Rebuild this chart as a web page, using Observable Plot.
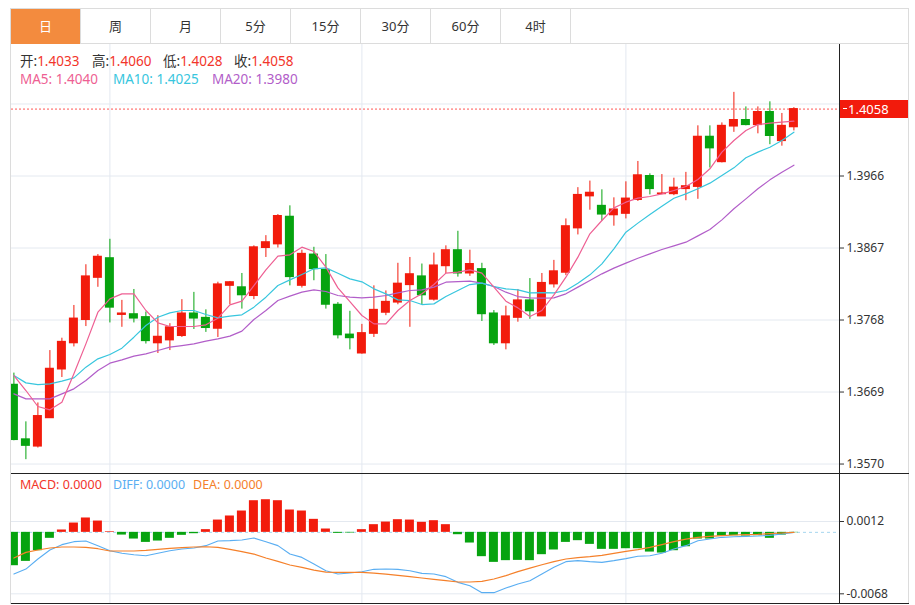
<!DOCTYPE html>
<html>
<head>
<meta charset="utf-8">
<script src="https://cdn.jsdelivr.net/npm/d3@7"></script>
<script src="https://cdn.jsdelivr.net/npm/@observablehq/plot@0.6"></script>
<style>
  body { margin: 0; background: #fff; font-family: "Noto Sans", "Noto Sans CJK SC", sans-serif; color: #333; }
  #wrap { position: relative; width: 915px; height: 605px; overflow: hidden; }
  .abs { position: absolute; }
  .tab { position: absolute; top: 9px; height: 35px; line-height: 35px; text-align: center; font-size: 13px; color: #333; box-sizing: border-box; border-right: 1px solid #dcdcdc; }
  .tab.active { background: #f38b3e; color: #fff; }
  .info { position: absolute; font-size: 13.5px; line-height: 18px; white-space: nowrap; }
  .small { font-size: 12.5px; }
  .k { color: #333; }
  .v { color: #f2352a; }
</style>
</head>
<body>
<div id="wrap"></div>
<script>
// ---------- data ----------
const tabs = ["日", "周", "月", "5分", "15分", "30分", "60分", "4时"];

const open  = [1.3679,1.3604,1.3594,1.3633,1.3700,1.3736,1.3768,1.3826,1.3853,1.3775,1.3776,1.3772,1.3736,1.3740,1.3746,1.3777,1.3771,1.3756,1.3815,1.3813,1.3801,1.3867,1.3872,1.3910,1.3815,1.3858,1.3837,1.3789,1.3748,1.3722,1.3749,1.3778,1.3792,1.3816,1.3828,1.3796,1.3842,1.3864,1.3832,1.3838,1.3777,1.3736,1.3771,1.3795,1.3773,1.3817,1.3833,1.3894,1.3938,1.3925,1.3912,1.3914,1.3933,1.3966,1.3941,1.3941,1.3948,1.3951,1.4020,1.3985,1.4034,1.4043,1.4036,1.4054,1.4014,1.4033];
const high  = [1.3695,1.3628,1.3654,1.3726,1.3743,1.3788,1.3844,1.3858,1.3879,1.3795,1.3810,1.3779,1.3774,1.3763,1.3796,1.3806,1.3782,1.3820,1.3821,1.3832,1.3870,1.3884,1.3913,1.3925,1.3864,1.3868,1.3858,1.3792,1.3780,1.3762,1.3815,1.3808,1.3846,1.3854,1.3845,1.3860,1.3870,1.3890,1.3864,1.3846,1.3781,1.3787,1.3810,1.3825,1.3832,1.3850,1.3907,1.3950,1.3959,1.3947,1.3936,1.3958,1.3986,1.3969,1.3968,1.3963,1.3971,1.4035,1.4035,1.4039,1.4081,1.4061,1.4061,1.4068,1.4052,1.4060];
const low   = [1.3602,1.3576,1.3592,1.3633,1.3689,1.3731,1.3759,1.3813,1.3764,1.3758,1.3764,1.3735,1.3722,1.3726,1.3744,1.3755,1.3751,1.3744,1.3789,1.3783,1.3796,1.3854,1.3867,1.3815,1.3812,1.3822,1.3783,1.3742,1.3727,1.3721,1.3744,1.3774,1.3789,1.3758,1.3789,1.3794,1.3832,1.3827,1.3828,1.3766,1.3733,1.3727,1.3765,1.3769,1.3773,1.3812,1.3829,1.3885,1.3919,1.3904,1.3897,1.3907,1.3931,1.3940,1.3941,1.3939,1.3932,1.3934,1.3977,1.3984,1.4026,1.4035,1.4024,1.4009,1.4007,1.4028];
const close = [1.3603,1.3595,1.3636,1.3701,1.3738,1.3770,1.3828,1.3855,1.3785,1.3777,1.3770,1.3739,1.3745,1.3758,1.3777,1.3770,1.3757,1.3817,1.3820,1.3802,1.3868,1.3875,1.3911,1.3827,1.3859,1.3838,1.3789,1.3747,1.3743,1.3750,1.3782,1.3793,1.3818,1.3831,1.3802,1.3843,1.3864,1.3832,1.3845,1.3776,1.3736,1.3773,1.3795,1.3780,1.3819,1.3835,1.3897,1.3940,1.3943,1.3913,1.3920,1.3935,1.3967,1.3948,1.3942,1.3950,1.3952,1.4020,1.4004,1.4035,1.4043,1.4036,1.4054,1.4021,1.4035,1.4058];

const ma5  = [1.36917,1.36711,1.36491,1.36445,1.3655,1.3694,1.37352,1.37788,1.37971,1.3804,1.3804,1.37811,1.37641,1.37591,1.37591,1.37591,1.37614,1.37705,1.37889,1.37939,1.38154,1.3837,1.38558,1.38576,1.38682,1.38622,1.38407,1.38122,1.37934,1.37742,1.37627,1.37627,1.37811,1.37948,1.3804,1.38168,1.38324,1.38338,1.3837,1.38324,1.38132,1.37939,1.37847,1.37728,1.37811,1.38026,1.38269,1.38544,1.38865,1.39048,1.39222,1.393,1.39355,1.39378,1.39415,1.39461,1.39516,1.39612,1.39759,1.39988,1.40148,1.40286,1.40368,1.40386,1.404,1.40414];
const ma10 = [1.36917,1.36816,1.36793,1.36802,1.36839,1.36885,1.37032,1.37146,1.37206,1.37293,1.37444,1.37604,1.37719,1.37779,1.37811,1.37811,1.37756,1.3771,1.37733,1.37751,1.37857,1.37994,1.38154,1.38232,1.38306,1.38384,1.38397,1.38324,1.38246,1.38205,1.38109,1.3804,1.37957,1.37948,1.37893,1.37902,1.38003,1.38086,1.38168,1.38187,1.38141,1.38109,1.38095,1.38054,1.38058,1.38054,1.38086,1.38187,1.38301,1.38452,1.38659,1.38888,1.39012,1.39131,1.39245,1.39355,1.39415,1.39484,1.39562,1.39667,1.39772,1.3991,1.39988,1.40056,1.40148,1.40263];
const ma20 = [1.36665,1.36596,1.36596,1.36596,1.36665,1.36734,1.36848,1.36986,1.37087,1.37132,1.37183,1.37215,1.37261,1.37307,1.37329,1.37352,1.37389,1.37421,1.37458,1.37527,1.37687,1.37811,1.37948,1.38008,1.38063,1.38095,1.38072,1.38017,1.37994,1.37985,1.37994,1.38017,1.38054,1.38086,1.38095,1.38132,1.382,1.38209,1.38214,1.38187,1.38141,1.38063,1.38003,1.37985,1.3798,1.37985,1.3804,1.38132,1.38223,1.38315,1.38393,1.38462,1.3853,1.3859,1.38649,1.387,1.3875,1.38837,1.38924,1.39057,1.39209,1.39346,1.39484,1.39607,1.39713,1.39809];

const macd = [-0.00369,-0.00321,-0.00203,-0.00066,0.00026,0.00103,0.00159,0.00125,0.00007,-0.0003,-0.00074,-0.00111,-0.00096,-0.00066,-0.00033,-0.00015,0.0003,0.00136,0.00181,0.00236,0.0035,0.00361,0.0035,0.00247,0.00236,0.00144,0.00037,-0.00011,-0.00007,0.0003,0.00085,0.00114,0.0014,0.00136,0.00111,0.00129,0.00085,-0.00026,-0.00118,-0.00269,-0.00332,-0.00313,-0.0031,-0.00313,-0.00247,-0.00195,-0.00111,-0.00092,-0.00133,-0.00188,-0.00188,-0.00181,-0.00181,-0.00218,-0.00229,-0.00203,-0.00159,-0.00074,-0.00074,-0.00041,-0.00037,-0.00041,-0.00037,-0.00066,-0.0003,-0.00004];
const diff = [-0.00461,-0.00406,-0.00295,-0.00195,-0.00136,-0.00103,-0.00096,-0.00147,-0.00203,-0.00232,-0.00247,-0.00258,-0.00232,-0.00203,-0.00184,-0.00173,-0.00147,-0.00096,-0.00092,-0.00085,-0.00063,-0.00103,-0.00147,-0.0024,-0.00277,-0.0035,-0.00424,-0.00461,-0.0045,-0.00435,-0.00409,-0.00406,-0.00409,-0.00424,-0.00454,-0.00461,-0.0049,-0.00553,-0.0059,-0.00667,-0.00667,-0.00616,-0.00571,-0.00535,-0.00461,-0.00387,-0.00324,-0.00313,-0.00324,-0.00332,-0.00313,-0.00291,-0.00265,-0.00258,-0.00232,-0.00184,-0.00147,-0.00092,-0.00074,-0.00055,-0.00048,-0.00044,-0.00041,-0.00033,-0.00018,0];
const dea  = [-0.00284,-0.00221,-0.00195,-0.00173,-0.00162,-0.00162,-0.00166,-0.00181,-0.00206,-0.00206,-0.00206,-0.00199,-0.00188,-0.00177,-0.0017,-0.00162,-0.00159,-0.00166,-0.00188,-0.00214,-0.0024,-0.00284,-0.00321,-0.00361,-0.00387,-0.00417,-0.00439,-0.00442,-0.00442,-0.00442,-0.0045,-0.00461,-0.00476,-0.0049,-0.00505,-0.0052,-0.00535,-0.00549,-0.00549,-0.00542,-0.00516,-0.00479,-0.00435,-0.00395,-0.00358,-0.00324,-0.00295,-0.0028,-0.00269,-0.00254,-0.00232,-0.0021,-0.00192,-0.00166,-0.00136,-0.00103,-0.00074,-0.00055,-0.00044,-0.00037,-0.00029,-0.00026,-0.00022,-0.00015,-0.00007,0];

const monthStarts = [8, 29, 51];           // candle indices where vertical grid lines fall
const priceGrid = [1.3570, 1.3669, 1.3768, 1.3867, 1.3966, 1.4065];
const priceTicks = [1.3570, 1.3669, 1.3768, 1.3867, 1.3966];   // the 1.4065 label sits under the price tag
const macdTicks = [0.0012, -0.0068];

const header = {open: "1.4033", high: "1.4060", low: "1.4028", close: "1.4058", ma5: "1.4040", ma10: "1.4025", ma20: "1.3980"};

// ---------- styles ----------
const RED = "#f21b0c", GREEN = "#06a30f";
const C_MA5 = "#ee5f93", C_MA10 = "#38c6de", C_MA20 = "#b25ec9";
const C_DIFF = "#5aaef2", C_DEA = "#f5802a";
const GRID = "#e4e9f0";
const FONT = "'Noto Sans', 'Noto Sans CJK SC', sans-serif";

const candles = d3.range(open.length).map(i => ({
  i, open: open[i], high: high[i], low: low[i], close: close[i],
  ma5: ma5[i], ma10: ma10[i], ma20: ma20[i],
  macd: macd[i], diff: diff[i], dea: dea[i]
}));
const col = d => d.close >= d.open ? RED : GREEN;
const fmt = d => d.toFixed(4);

const wrap = document.getElementById("wrap");
function box(css, html) {
  const el = document.createElement("div");
  el.className = "abs";
  el.style.cssText = css;
  if (html) el.innerHTML = html;
  wrap.appendChild(el);
  return el;
}

// outer frame & tab bar
box("left:10px;top:8px;width:899px;height:36px;border:1px solid #dcdcdc;box-sizing:border-box;");
tabs.forEach((t, k) => {
  const el = document.createElement("div");
  el.className = "tab" + (k === 0 ? " active" : "");
  el.style.left = (11 + 70 * k) + "px";
  el.style.width = "70px";
  el.textContent = t;
  wrap.appendChild(el);
});

const xDomain = [-0.2, 68.8];

// ---------- main candlestick chart ----------
const main = Plot.plot({
  width: 915, height: 429,
  marginLeft: 11, marginRight: 76, marginTop: 0, marginBottom: 0,
  style: {fontSize: "12px", fontFamily: FONT, color: "#333", background: "transparent"},
  x: {domain: xDomain, axis: null},
  y: {domain: [1.3557, 1.41468], axis: "right", ticks: priceTicks, tickFormat: fmt, tickSize: 4, tickPadding: 3, label: null},
  marks: [
    Plot.gridY(priceGrid, {stroke: GRID, strokeOpacity: 1}),
    Plot.ruleX(monthStarts, {stroke: GRID, strokeOpacity: 1}),
    Plot.ruleY([close[close.length - 1]], {stroke: "#f55", strokeDasharray: "2,2", strokeWidth: 1}),
    Plot.ruleX(candles, {x: "i", y1: "low", y2: "high", stroke: col, strokeWidth: 1, clip: true}),
    Plot.rect(candles, {x1: d => d.i - 0.375, x2: d => d.i + 0.375, y1: "open", y2: "close", fill: col, insetTop: -0.5, insetBottom: -0.5, clip: true}),
    Plot.line(candles, {x: "i", y: "ma20", stroke: C_MA20, strokeWidth: 1.2, clip: true}),
    Plot.line(candles, {x: "i", y: "ma10", stroke: C_MA10, strokeWidth: 1.2, clip: true}),
    Plot.line(candles, {x: "i", y: "ma5", stroke: C_MA5, strokeWidth: 1.2, clip: true})
  ]
});
main.style.position = "absolute";
main.style.left = "0px";
main.style.top = "44px";
wrap.appendChild(main);

// ---------- MACD chart ----------
const sub = Plot.plot({
  width: 915, height: 129,
  marginLeft: 11, marginRight: 76, marginTop: 0, marginBottom: 0,
  style: {fontSize: "12px", fontFamily: FONT, color: "#333", background: "transparent"},
  x: {domain: xDomain, axis: null},
  y: {domain: [-0.00787, 0.0064], axis: "right", ticks: macdTicks, tickFormat: fmt, tickSize: 4, tickPadding: 3, label: null},
  marks: [
    Plot.gridY(macdTicks, {stroke: GRID, strokeOpacity: 1}),
    Plot.ruleX(monthStarts, {stroke: GRID, strokeOpacity: 1}),
    Plot.ruleY([0], {stroke: "#a6d6ef", strokeDasharray: "3,3"}),
    Plot.rect(candles, {x1: d => d.i - 0.375, x2: d => d.i + 0.375, y1: 0, y2: "macd", fill: d => d.macd >= 0 ? RED : GREEN, clip: true}),
    Plot.line(candles, {x: "i", y: "diff", stroke: C_DIFF, strokeWidth: 1.1, clip: true}),
    Plot.line(candles, {x: "i", y: "dea", stroke: C_DEA, strokeWidth: 1.2, clip: true})
  ]
});
sub.style.position = "absolute";
sub.style.left = "0px";
sub.style.top = "474px";
wrap.appendChild(sub);

// panel frame lines
box("left:10px;top:44px;width:1px;height:560px;background:#dcdcdc;");
box("left:908px;top:44px;width:1px;height:560px;background:#dcdcdc;");
box("left:839px;top:44px;width:1px;height:560px;background:#222;");
box("left:11px;top:473px;width:898px;height:1px;background:#222;");
box("left:11px;top:603px;width:898px;height:1px;background:#222;");

// last-price tag (position from the chart's own y scale)
const yLast = main.scale("y").apply(close[close.length - 1]) + 44;
box(`left:840px;top:${yLast - 9}px;width:68px;height:18px;background:${RED};`,
  `<div style="position:absolute;left:3px;top:8.5px;width:4px;height:1px;background:#fff"></div>
   <div style="position:absolute;left:8px;top:0;line-height:18px;font-size:13px;color:#fff;font-family:${FONT}">${header.close}</div>`);

// header info
const info = (x, y, html, cls) => { const el = box(`left:${x}px;top:${y}px;`, html); el.className = "info" + (cls ? " " + cls : ""); el.style.position = "absolute"; };
info(20, 52, `<span class="k">开:</span><span class="v">${header.open}</span>`);
info(92, 52, `<span class="k">高:</span><span class="v">${header.high}</span>`);
info(163, 52, `<span class="k">低:</span><span class="v">${header.low}</span>`);
info(234, 52, `<span class="k">收:</span><span class="v">${header.close}</span>`);
info(20, 70, `<span style="color:${C_MA5}">MA5: ${header.ma5}</span>`);
info(113, 70, `<span style="color:${C_MA10}">MA10: ${header.ma10}</span>`);
info(212, 70, `<span style="color:${C_MA20}">MA20: ${header.ma20}</span>`);
info(20, 476, `<span style="color:#f2352a">MACD: 0.0000</span>`, "small");
info(113, 476, `<span style="color:${C_DIFF}">DIFF: 0.0000</span>`, "small");
info(193, 476, `<span style="color:${C_DEA}">DEA: 0.0000</span>`, "small");
</script>
</body>
</html>
